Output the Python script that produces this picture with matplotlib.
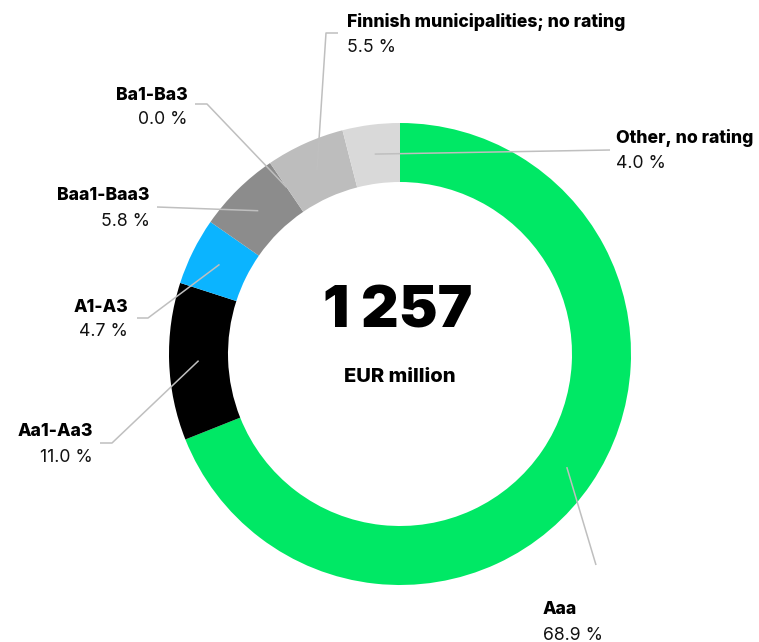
import numpy as np
import matplotlib.pyplot as plt

plt.rcParams["font.family"] = ["Inter", "DejaVu Sans"]

# Rating distribution, clockwise from 12 o'clock
labels = [
    "Aaa",
    "Aa1-Aa3",
    "A1-A3",
    "Baa1-Baa3",
    "Ba1-Ba3",
    "Finnish municipalities; no rating",
    "Other, no rating",
]
shares = [68.9, 11.0, 4.7, 5.8, 0.0, 5.5, 4.0]
colors = ["#00e865", "#000000", "#0bb4ff", "#8c8c8c", "#6e6e6e", "#bdbdbd", "#d9d9d9"]
total_value = "1 257"
total_unit = "EUR million"

W, H = 759, 642
CX, CY = 400, H - 354
R_OUT, RING = 231, 59

# label layout in pixel coords (top-left origin): elbow x, elbow y, stub end x, text x, align, text y
layout = [
    (596, 565, 596, 543, "left", 610),
    (112, 443, 100, 93, "right", 432),
    (148, 318, 137, 128, "right", 307),
    (157, 207, 157, 150, "right", 196),
    (207, 104, 195, 188, "right", 95),
    (326, 33, 338, 347, "left", 22),
    (610, 150, 610, 616, "left", 138),
]

fig = plt.figure(figsize=(W / 100, H / 100), dpi=100)
ax = fig.add_axes([0, 0, 1, 1])

ax.pie(
    shares,
    colors=colors,
    startangle=90,
    counterclock=False,
    center=(CX, CY),
    radius=R_OUT,
    wedgeprops=dict(width=RING, linewidth=0),
    frame=True,
)
ax.set_xlim(0, W)
ax.set_ylim(0, H)
ax.set_aspect("equal")
ax.axis("off")

cum = np.cumsum([0] + shares)
tot = sum(shares)
r_mid = R_OUT - RING / 2
for i, (lab, val) in enumerate(zip(labels, shares)):
    mid = 90 - 360 * (cum[i] + val / 2) / tot
    sx = CX + r_mid * np.cos(np.radians(mid))
    sy = CY + r_mid * np.sin(np.radians(mid))
    ex, ey, stub, tx, ha, ty = layout[i]
    ax.plot([sx, ex, stub], [sy, H - ey, H - ey], color="#bfbfbf", lw=1.1,
            solid_capstyle="butt")
    ax.text(tx, H - ty, lab, ha=ha, va="center", fontsize=12.7, fontweight="heavy")
    ax.text(tx, H - ty - 25, f"{val:.1f} %", ha=ha, va="center", fontsize=12.7,
            fontweight="normal", color="#111111")

ax.text(CX - 2, H - 313, total_value, ha="center", va="center", fontsize=42,
        fontweight="black")
ax.text(CX, H - 377, total_unit, ha="center", va="center", fontsize=14.5,
        fontweight="heavy")

fig.savefig("out.png", dpi=100)
